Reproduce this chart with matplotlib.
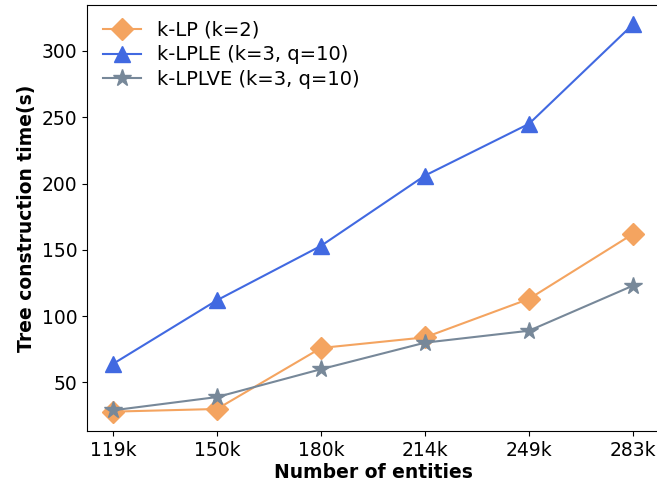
import numpy as np
import matplotlib
matplotlib.use('Agg')
import matplotlib.pyplot as plt

entities = ['119k', '150k', '180k', '214k', '249k', '283k']
klp = [28, 30, 76, 84, 113, 162]
klple = [64, 112, 153, 206, 245, 320]
klplve = [29, 39, 60, 80, 89, 123]

fig = plt.figure(figsize=(6.57, 4.87), dpi=100)
ax = fig.add_axes([87 / 657, 56 / 487, 572 / 657, 426 / 487])

x = np.arange(len(entities))
ax.plot(x, klp, color='sandybrown', marker='D', markersize=11, linewidth=1.5, label='k-LP (k=2)')
ax.plot(x, klple, color='royalblue', marker='^', markersize=11, linewidth=1.5, label='k-LPLE (k=3, q=10)')
ax.plot(x, klplve, color='lightslategray', marker='*', markersize=13, linewidth=1.5, label='k-LPLVE (k=3, q=10)')

ax.set_xticks(x)
ax.set_xticklabels(entities)
ax.tick_params(labelsize=13.5)
ax.set_yticks([50, 100, 150, 200, 250, 300])
ax.set_xlabel('Number of entities', fontsize=13.5, fontweight='bold', labelpad=2)
ax.set_ylabel('Tree construction time(s)', fontsize=13.5, fontweight='bold')
ax.legend(loc='upper left', fontsize=14, frameon=False, handlelength=2.0,
          borderaxespad=0.4, labelspacing=0.3)

fig.savefig('out.png', dpi=100)
